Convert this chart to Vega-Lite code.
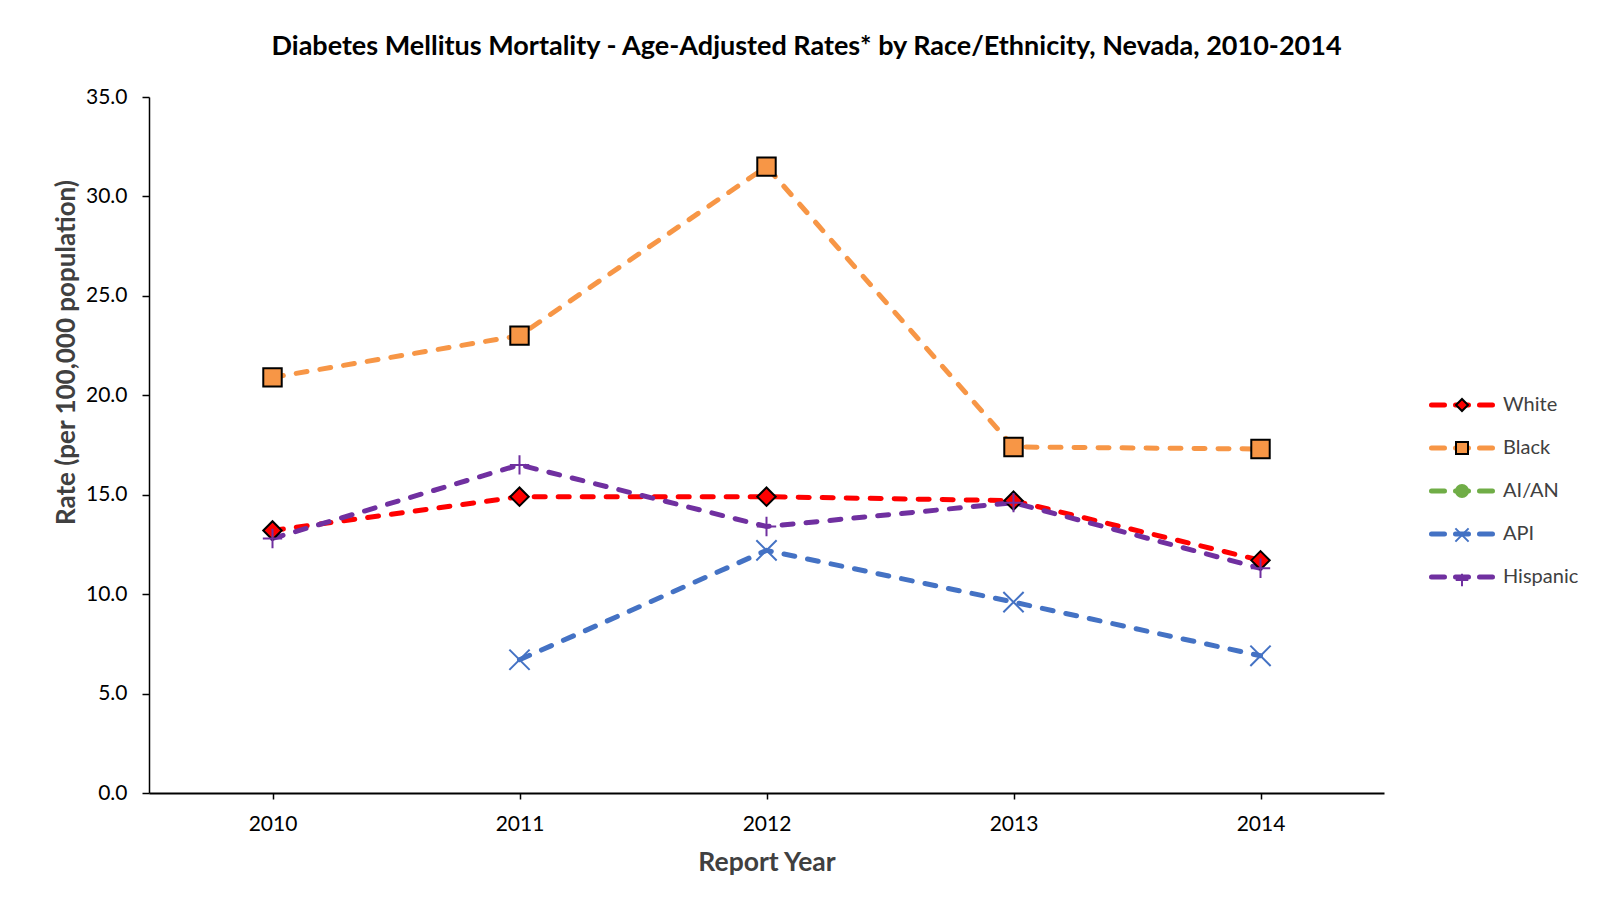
{
  "$schema": "https://vega.github.io/schema/vega-lite/v6.json",
  "width": 1235,
  "height": 696,
  "autosize": {"type": "none"},
  "padding": {"left": 149, "top": 97, "right": 217, "bottom": 117},
  "background": "white",
  "config": {"view": {"stroke": null}, "font": "Lato"},
  "title": {
    "text": "Diabetes Mellitus Mortality - Age-Adjusted Rates* by Race/Ethnicity, Nevada, 2010-2014",
    "font": "Lato",
    "fontSize": 27,
    "fontWeight": "bold",
    "color": "#000000",
    "anchor": "middle",
    "frame": "group",
    "dx": 40,
    "offset": 25
  },
  "data": {
    "values": [
      {"year": "2010", "series": "White", "rate": 13.2},
      {"year": "2011", "series": "White", "rate": 14.9},
      {"year": "2012", "series": "White", "rate": 14.9},
      {"year": "2013", "series": "White", "rate": 14.7},
      {"year": "2014", "series": "White", "rate": 11.7},
      {"year": "2010", "series": "Black", "rate": 20.9},
      {"year": "2011", "series": "Black", "rate": 23.0},
      {"year": "2012", "series": "Black", "rate": 31.5},
      {"year": "2013", "series": "Black", "rate": 17.4},
      {"year": "2014", "series": "Black", "rate": 17.3},
      {"year": "2011", "series": "API", "rate": 6.7},
      {"year": "2012", "series": "API", "rate": 12.2},
      {"year": "2013", "series": "API", "rate": 9.6},
      {"year": "2014", "series": "API", "rate": 6.9},
      {"year": "2010", "series": "Hispanic", "rate": 12.8},
      {"year": "2011", "series": "Hispanic", "rate": 16.5},
      {"year": "2012", "series": "Hispanic", "rate": 13.4},
      {"year": "2013", "series": "Hispanic", "rate": 14.6},
      {"year": "2014", "series": "Hispanic", "rate": 11.3}
    ]
  },
  "encoding": {
    "x": {
      "field": "year",
      "type": "ordinal",
      "scale": {"type": "point", "padding": 0.5},
      "axis": {
        "title": "Report Year",
        "titleFont": "Lato",
        "titleFontSize": 26.5,
        "titleFontWeight": "bold",
        "titleColor": "#404040",
        "titlePadding": 15,
        "labelAngle": 0,
        "labelFont": "Lato",
        "labelFontSize": 21,
        "labelColor": "#000000",
        "labelPadding": 14,
        "tickSize": 6,
        "tickColor": "#000000",
        "tickWidth": 1.5,
        "domainColor": "#000000",
        "domainWidth": 2,
        "grid": false
      }
    },
    "y": {
      "field": "rate",
      "type": "quantitative",
      "scale": {"domain": [0, 35]},
      "axis": {
        "title": "Rate (per 100,000 population)",
        "titleFont": "Lato",
        "titleFontSize": 26,
        "titleFontWeight": "bold",
        "titleColor": "#404040",
        "titleAngle": -90,
        "titleX": -83,
        "titleY": 255,
        "titleAlign": "center",
        "titleBaseline": "middle",
        "values": [0, 5, 10, 15, 20, 25, 30, 35],
        "format": ".1f",
        "labelFont": "Lato",
        "labelFontSize": 21,
        "labelColor": "#000000",
        "labelPadding": 15,
        "tickSize": 7,
        "tickColor": "#000000",
        "tickWidth": 1.5,
        "domainColor": "#000000",
        "domainWidth": 1.5,
        "grid": false
      }
    }
  },
  "layer": [
    {
      "mark": {"type": "line", "strokeWidth": 5, "strokeDash": [11, 13], "strokeCap": "round"},
      "encoding": {
        "color": {
          "field": "series",
          "type": "nominal",
          "scale": {
            "domain": ["White", "Black", "AI/AN", "API", "Hispanic"],
            "range": ["#FF0000", "#F79646", "#70AD47", "#4472C4", "#7030A0"]
          },
          "legend": {
            "orient": "none",
            "legendX": 1303,
            "legendY": 298,
            "title": null,
            "padding": 0,
            "symbolType": "M-6.1,0H6.1",
            "symbolSize": 100,
            "symbolStrokeWidth": 5,
            "symbolDash": [13, 11],
            "symbolOffset": 0,
            "labelFont": "Lato",
            "labelFontSize": 20,
            "labelColor": "#404040",
            "labelOffset": 31,
            "rowPadding": 23,
            "encode": {"symbols": {"update": {"strokeCap": {"value": "round"}}}}
          }
        }
      }
    },
    {
      "mark": {"type": "point", "opacity": 1, "strokeWidth": 2, "size": 340},
      "encoding": {
        "shape": {
          "field": "series",
          "type": "nominal",
          "scale": {
            "domain": ["White", "Black", "AI/AN", "API", "Hispanic"],
            "range": ["diamond", "square", "circle", "M-1.1,-1.1L1.1,1.1M-1.1,1.1L1.1,-1.1", "M0,-1.05V1.05M-1.05,0H1.05"]
          },
          "legend": {
            "orient": "none",
            "legendX": 1303,
            "legendY": 298,
            "title": null,
            "padding": 0,
            "symbolSize": 144,
            "symbolStrokeWidth": 2,
            "symbolOffset": 0,
            "labelFont": "Lato",
            "labelFontSize": 20,
            "labelOpacity": 0,
            "labelOffset": 31,
            "rowPadding": 23
          }
        },
        "fill": {
          "field": "series",
          "type": "nominal",
          "scale": {
            "domain": ["White", "Black", "AI/AN", "API", "Hispanic"],
            "range": ["#FF0000", "#F79646", "#70AD47", "transparent", "transparent"]
          },
          "legend": {
            "orient": "none",
            "legendX": 1303,
            "legendY": 298,
            "title": null,
            "padding": 0,
            "symbolSize": 144,
            "symbolStrokeWidth": 2,
            "symbolOffset": 0,
            "labelFont": "Lato",
            "labelFontSize": 20,
            "labelOpacity": 0,
            "labelOffset": 31,
            "rowPadding": 23
          }
        },
        "stroke": {
          "field": "series",
          "type": "nominal",
          "scale": {
            "domain": ["White", "Black", "AI/AN", "API", "Hispanic"],
            "range": ["#000000", "#000000", "#70AD47", "#4472C4", "#7030A0"]
          },
          "legend": {
            "orient": "none",
            "legendX": 1303,
            "legendY": 298,
            "title": null,
            "padding": 0,
            "symbolSize": 144,
            "symbolStrokeWidth": 2,
            "symbolOffset": 0,
            "labelFont": "Lato",
            "labelFontSize": 20,
            "labelOpacity": 0,
            "labelOffset": 31,
            "rowPadding": 23
          }
        }
      }
    }
  ],
  "resolve": {
    "legend": {"color": "independent", "shape": "independent", "fill": "independent", "stroke": "independent"}
  }
}
